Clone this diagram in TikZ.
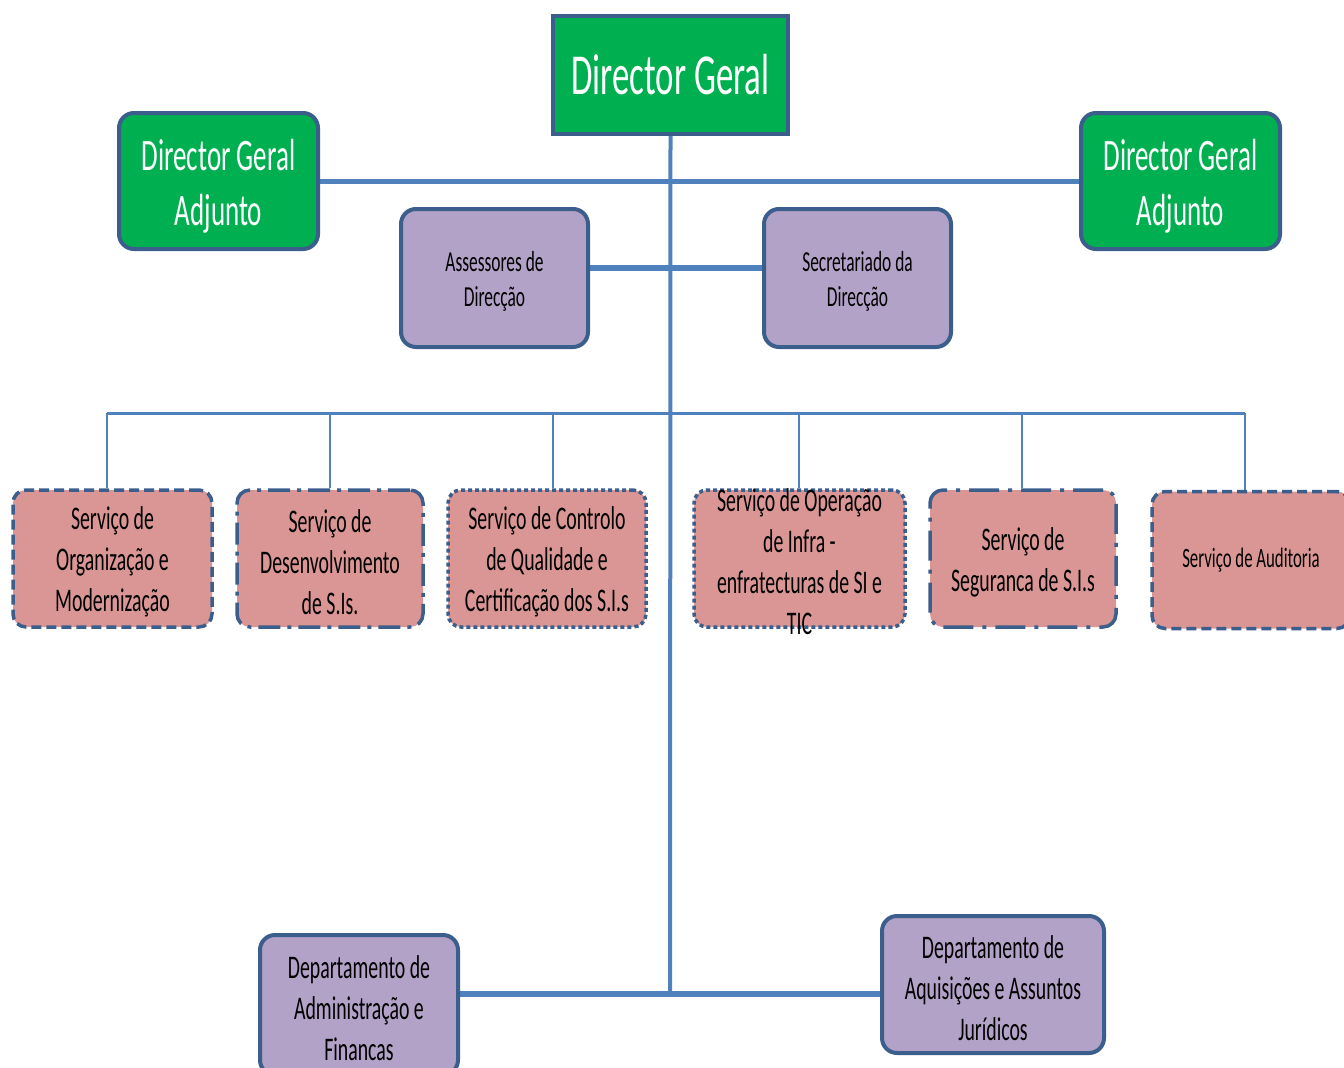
\documentclass[tikz,border=0pt]{standalone}
\usepackage{fontspec}
\setmainfont{Carlito}[FakeStretch=0.6]
\usetikzlibrary{backgrounds}
\definecolor{dgreen}{HTML}{00B050}
\definecolor{bord}{HTML}{3B5E8C}
\definecolor{conn}{HTML}{4F81BD}
\definecolor{purp}{HTML}{B2A2C7}
\definecolor{pinkf}{HTML}{D99694}
\begin{document}
\begin{tikzpicture}[x=1pt,y=-1pt,
  box/.style={draw=bord, line width=4pt, inner sep=0pt, align=center},
  gbox/.style={box, fill=dgreen, text=white},
  pbox/.style={box, fill=purp, rounded corners=15pt},
  sbox/.style={box, fill=pinkf, rounded corners=13pt, line width=3.5pt, minimum height=137pt},
  stxt/.style={align=center, inner sep=0pt, font=\fontsize{33}{41}\selectfont},
  conline/.style={draw=conn, line width=#1},
  dash1/.style={dash pattern=on 10pt off 5pt},
  dash2/.style={dash pattern=on 22pt off 7pt on 4pt off 7pt},
  dash3/.style={dash pattern=on 4pt off 3pt},
  dash5/.style={dash pattern=on 30pt off 9pt on 4pt off 9pt},
  ]
\useasboundingbox (0,0) rectangle (1344,1068);

% top
\node[gbox, minimum width=235pt, minimum height=118pt, font=\fontsize{58}{60}\selectfont] (dg) at (670.5,75) {Director Geral};
\node[gbox, rounded corners=15pt, minimum width=199pt, minimum height=136pt] (dgal) at (218.5,181) {};
\node[white, align=center, inner sep=0pt, font=\fontsize{45}{55}\selectfont] (dgalt) at (218.5,186) {Director Geral\\Adjunto};
\node[gbox, rounded corners=15pt, minimum width=199pt, minimum height=136pt] (dgar) at (1180.5,181) {};
\node[white, align=center, inner sep=0pt, font=\fontsize{45}{55}\selectfont] (dgart) at (1180.5,186) {Director Geral\\Adjunto};

\node[pbox, minimum width=187pt, minimum height=138pt, font=\fontsize{29}{35}\selectfont] (ass) at (494.5,278) {};
\node[align=center, inner sep=0pt, font=\fontsize{29}{35}\selectfont] (asst) at (494.5,281) {Assessores de\\Direcção};
\node[pbox, minimum width=187pt, minimum height=138pt] (sec) at (857.5,278) {};
\node[align=center, inner sep=0pt, font=\fontsize{29}{35}\selectfont] (sect) at (857.5,281) {Secretariado da\\Direcção};

% services
\node[sbox, dash1, minimum width=199pt] (s1) at (112.5,558.5) {};
\node[stxt] (s1t) at (112.5,562) {Serviço de\\Organização e\\Modernização};
\node[sbox, dash2, minimum width=186pt] (s2) at (330,558.5) {};
\node[stxt] (s2t) at (330,562) {Serviço de\\Desenvolvimento\\de S.Is.};
\node[sbox, dash3, minimum width=198pt] (s3) at (547,558.5) {};
\node[stxt] (s3t) at (547,562) {Serviço de Controlo\\de Qualidade e\\Certificação dos S.I.s};
\node[sbox, dash3, minimum width=211pt] (s4) at (799.5,558.5) {};
\node[stxt] (s4t) at (799.5,562) {Serviço de Operação\\de Infra -\\enfratecturas de SI e\\TIC};
\node[sbox, dash5, minimum width=186pt] (s5) at (1023,558.5) {};
\node[stxt] (s5t) at (1023,562) {Serviço de\\Seguranca de S.I.s};
\node[sbox, dash1, minimum width=198pt, font=\fontsize{28}{34}\selectfont] (s6) at (1251,560) {Serviço de Auditoria};

% departments
\node[pbox, minimum width=198pt, minimum height=140pt] (adm) at (359,1005) {};
\node[stxt] (admt) at (359,1008) {Departamento de\\Administração e\\Financas};
\node[pbox, minimum width=222pt, minimum height=137pt] (aq) at (993,984.5) {};
\node[stxt] (aqt) at (993,988) {Departamento de\\Aquisições e Assuntos\\Jurídicos};

\coordinate (bot) at (670,994);
\coordinate (aline) at (670,268);
\coordinate (d1) at (107,413);
\coordinate (d2) at (330,413);
\coordinate (d3) at (553,413);
\coordinate (d4) at (799,413);
\coordinate (d5) at (1022,413);
\coordinate (d6) at (1245,413);

\begin{scope}[on background layer]
  \draw[conline=4pt] (dg.south) -- (bot);
  \draw[conline=5pt] (dgal.east) -- (dgar.west);
  \draw[conline=6pt] (aline -| ass.east) -- (aline -| sec.west);
  \draw[conline=3pt] (d1) -- (d6);
  \draw[conline=2.5pt] (d1) -- (d1 |- s1.north);
  \draw[conline=2.5pt] (d2) -- (d2 |- s2.north);
  \draw[conline=2.5pt] (d3) -- (d3 |- s3.north);
  \draw[conline=2.5pt] (d4) -- (d4 |- s4.north);
  \draw[conline=2.5pt] (d5) -- (d5 |- s5.north);
  \draw[conline=2.5pt] (d6) -- (d6 |- s6.north);
  \draw[conline=6pt] (bot -| adm.east) -- (bot -| aq.west);
\end{scope}
\end{tikzpicture}
\end{document}
